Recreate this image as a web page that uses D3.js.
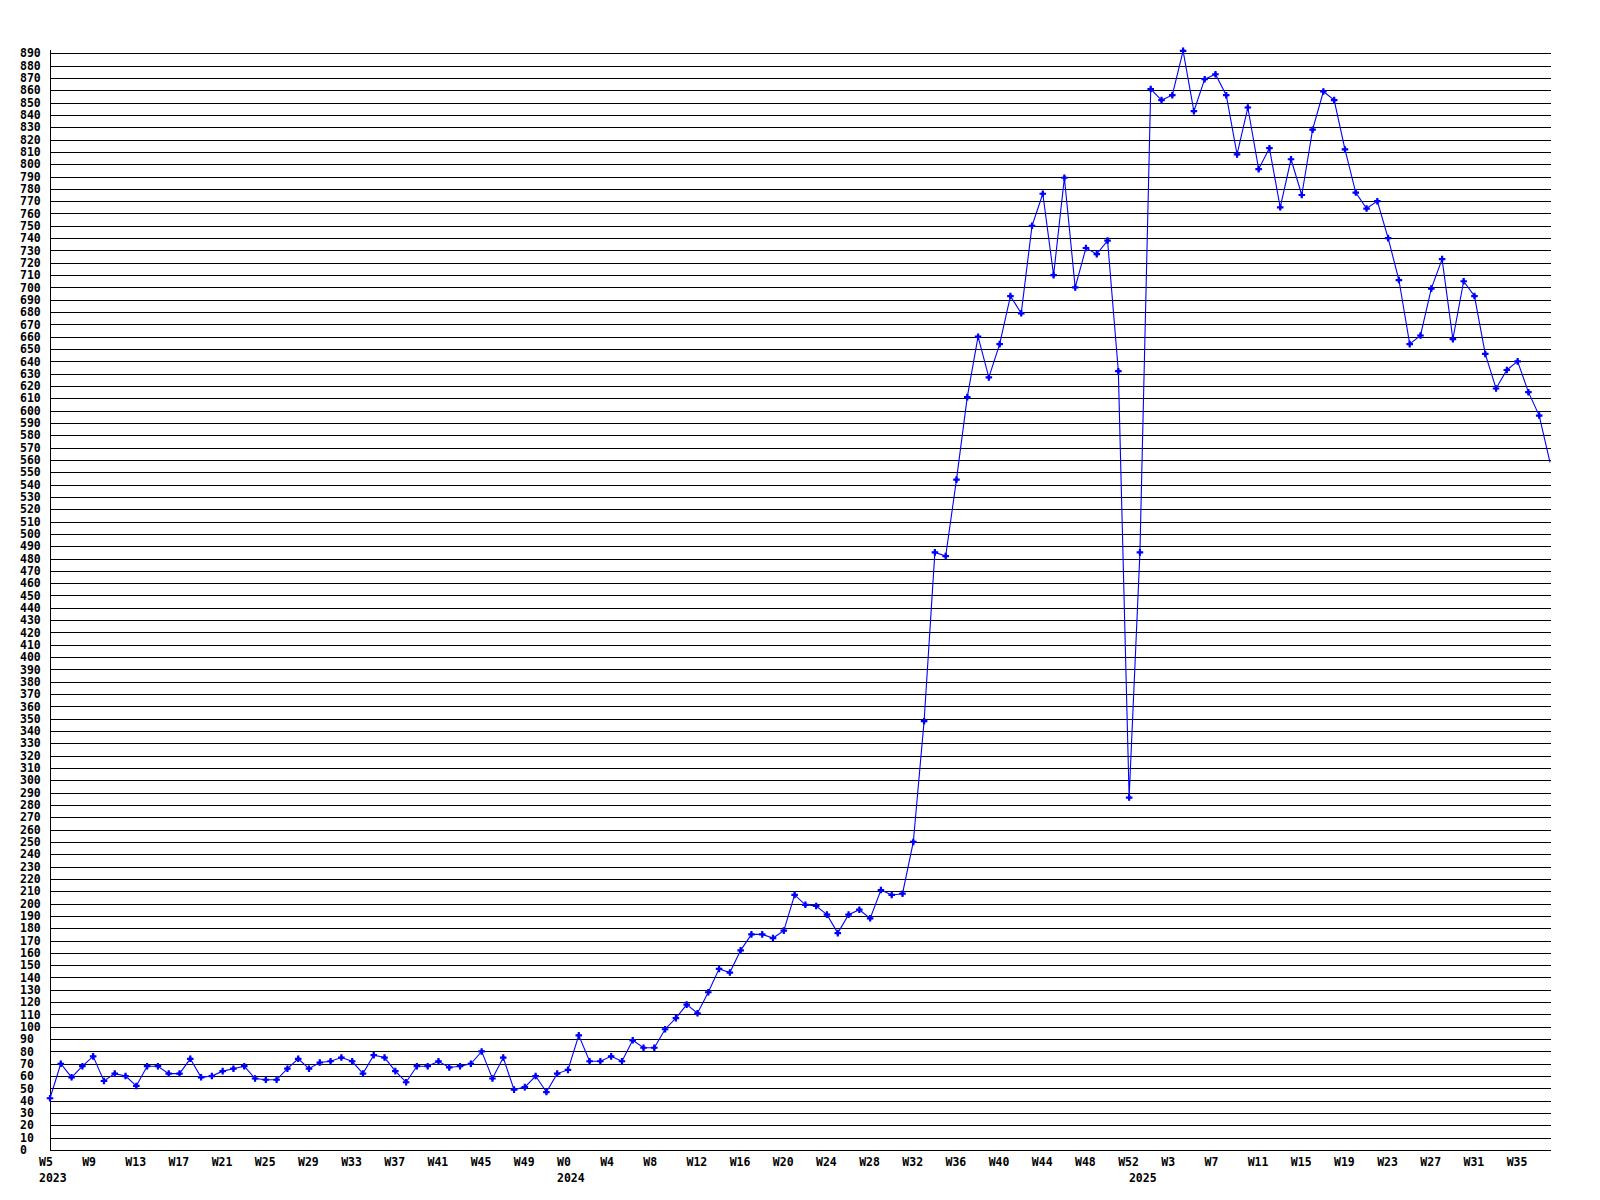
<!DOCTYPE html>
<html>
<head>
<meta charset="utf-8">
<script src="https://cdn.jsdelivr.net/npm/d3@7"></script>
<style>
  html, body { margin: 0; padding: 0; background: #fff; }
  svg { display: block; }
  text { font-family: "DejaVu Sans Mono", "Liberation Mono", monospace; font-weight: bold; font-size: 11.5px; fill: #000; }
</style>
</head>
<body>
<svg id="chart" width="1600" height="1200"></svg>
<script>
// ---- data ----
const weeks2023 = d3.range(5, 53);      // W5..W52
const weeks2024 = d3.range(0, 53);      // W0..W52
const weeks2025 = d3.range(0, 39);      // W0..W38

const values2023 = [42,70,59,68,76,56,62,60,52,68,68,62,62,74,59,60,64,66,68,58,57,57,66,74,66,71,72,75,72,62,77,75,64,55,68,68,72,67,68,70,80,58,75,49,51,60,47,62];
const values2024 = [65,93,72,72,76,72,89,83,83,98,107,118,111,128,147,144,162,175,175,172,178,207,199,198,191,176,191,195,188,211,207,208,250,348,485,482,544,611,660,627,654,693,679,750,776,710,789,700,732,727,738,632,286];
const values2025 = [485,861,852,856,892,843,869,873,856,808,846,796,813,765,804,775,828,859,852,812,777,764,770,740,706,654,661,699,723,658,705,693,646,618,633,640,615,596,558];

const xTickLabels = ["2023-W5","2023-W9","2023-W13","2023-W17","2023-W21","2023-W25","2023-W29","2023-W33","2023-W37","2023-W41","2023-W45","2023-W49",
  "2024-W0","2024-W4","2024-W8","2024-W12","2024-W16","2024-W20","2024-W24","2024-W28","2024-W32","2024-W36","2024-W40","2024-W44","2024-W48","2024-W52",
  "2025-W3","2025-W7","2025-W11","2025-W15","2025-W19","2025-W23","2025-W27","2025-W31","2025-W35"];
const yearLabels = [["2023","2023-W5"],["2024","2024-W0"],["2025","2025-W0"]];
const yTicks = d3.range(0, 891, 10);

// ---- build table ----
const data = [];
weeks2023.forEach((w,i)=>data.push({key:"2023-W"+w, v:values2023[i]}));
weeks2024.forEach((w,i)=>data.push({key:"2024-W"+w, v:values2024[i]}));
weeks2025.forEach((w,i)=>data.push({key:"2025-W"+w, v:values2025[i]}));

const svg = d3.select("#chart");
const plotLeft = 50, plotRight = 1550, plotTop = 53.3, plotBottom = 1150;

const x = d3.scalePoint().domain(data.map(d=>d.key)).range([plotLeft, plotRight]);
const y = d3.scaleLinear().domain([0, 890]).range([plotBottom, plotTop]);

// gridlines
svg.append("g").selectAll("line").data(yTicks).join("line")
  .attr("x1", plotLeft).attr("x2", plotRight + 1)
  .attr("y1", d => Math.round(y(d)) + 0.5).attr("y2", d => Math.round(y(d)) + 0.5)
  .attr("stroke", "#000").attr("stroke-width", 1).attr("shape-rendering", "crispEdges");

// y axis line
svg.append("line").attr("x1", plotLeft + 0.5).attr("x2", plotLeft + 0.5)
  .attr("y1", Math.round(y(890)) - 3).attr("y2", plotBottom + 0.5)
  .attr("stroke", "#000").attr("stroke-width", 1).attr("shape-rendering", "crispEdges");

// y labels
svg.append("g").selectAll("text").data(yTicks).join("text")
  .attr("x", 20).attr("y", d => y(d)).attr("dy", "0.36em")
  .text(d => d);

// x labels
svg.append("g").selectAll("text").data(xTickLabels).join("text")
  .attr("x", d => x(d) - 11).attr("y", 1162).attr("dy", "0.36em")
  .text(d => d.split("-")[1]);

svg.append("g").selectAll("text").data(yearLabels).join("text")
  .attr("x", d => x(d[1]) - 11).attr("y", 1177.5).attr("dy", "0.36em")
  .text(d => d[0]);

// line
const line = d3.line().x(d => x(d.key)).y(d => y(d.v));
svg.append("path").datum(data).attr("d", line)
  .attr("fill", "none").attr("stroke", "#0000ff").attr("stroke-width", 1.1);

// markers
const pts = data.slice(0, data.length - 1);
const sym = d3.symbol().type(d3.symbolCross).size(24);
const sym2 = d3.symbol().type(d3.symbolDiamond).size(12);
const mk = svg.append("g").selectAll("g").data(pts).join("g")
  .attr("transform", d => `translate(${x(d.key)},${y(d.v)})`);
mk.append("path").attr("d", sym).attr("fill", "#0000ff");
mk.append("path").attr("d", sym2).attr("fill", "#0000ff");
</script>
</body>
</html>
